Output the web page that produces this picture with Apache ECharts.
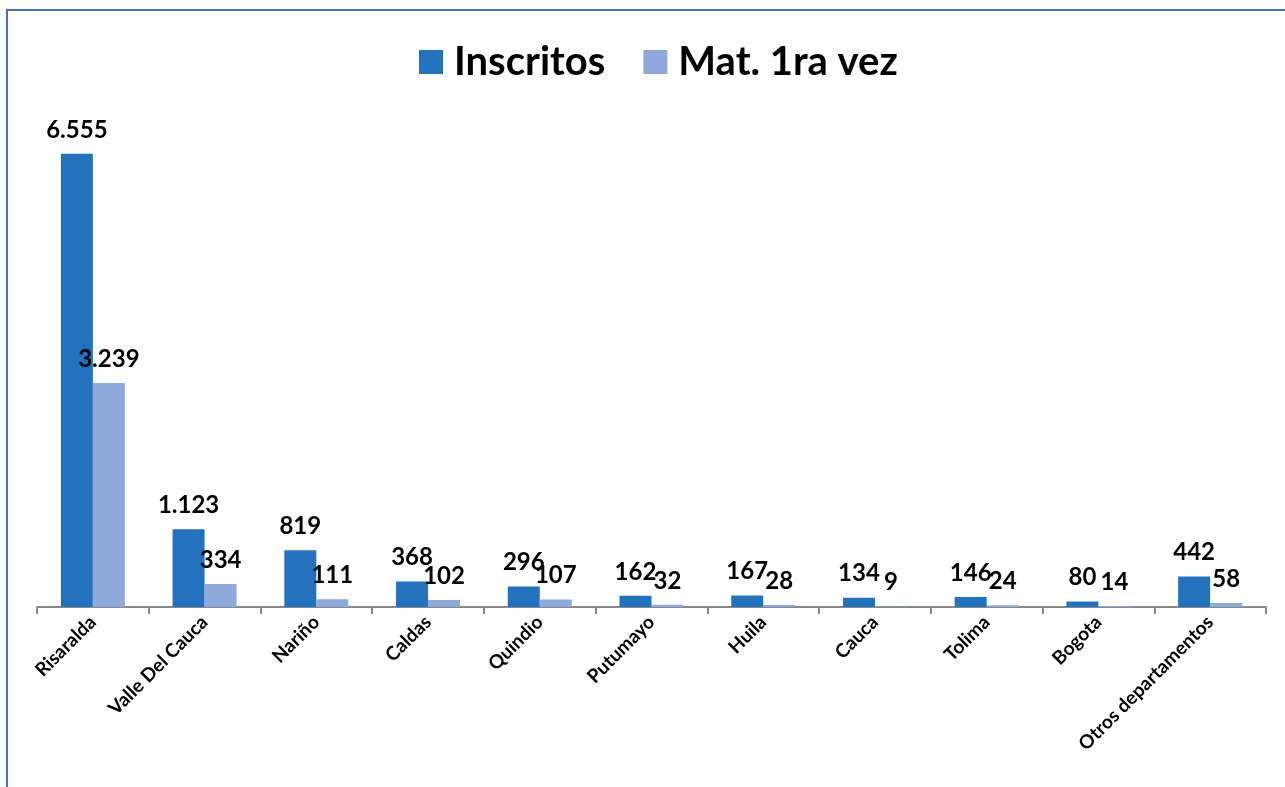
<!DOCTYPE html>
<html>
<head>
<meta charset="utf-8">
<script src="https://cdn.jsdelivr.net/npm/echarts@6/dist/echarts.min.js"></script>
<style>
  html, body { margin: 0; padding: 0; background: #fff; }
  #main { width: 1285px; height: 787px; }
</style>
</head>
<body>
<div id="main"></div>
<script>
var categories = ['Risaralda', 'Valle Del Cauca', 'Nariño', 'Caldas', 'Quindio', 'Putumayo',
                  'Huila', 'Cauca', 'Tolima', 'Bogota', 'Otros departamentos'];
var inscritos = [6555, 1123, 819, 368, 296, 162, 167, 134, 146, 80, 442];
var matPrimera = [3239, 334, 111, 102, 107, 32, 28, 9, 24, 14, 58];

var myChart = echarts.init(document.getElementById('main'));

// miles con punto, como en el original
function fmt(p) {
    return String(p.value).replace(/\B(?=(\d{3})+(?!\d))/g, '.');
}

var labelStyle = {
    show: true,
    position: 'top',
    distance: 12,
    formatter: fmt,
    color: '#000',
    fontFamily: 'Lato',
    fontWeight: 'bold',
    fontSize: 24
};

option = {
    backgroundColor: '#fff',
    animation: false,
    graphic: [{
        type: 'rect',
        shape: { x: 7, y: 10, width: 1400, height: 900 },
        style: { fill: 'none', stroke: '#4472C4', lineWidth: 2 }
    }],
    legend: {
        top: 37,
        left: 414,
        itemWidth: 24,
        itemHeight: 24,
        itemGap: 38,
        icon: 'rect',
        textStyle: {
            fontFamily: 'Lato',
            fontWeight: 'bold',
            fontSize: 40,
            color: '#000',
            padding: [0, 0, 0, 6]
        },
        data: ['Inscritos', 'Mat. 1ra vez']
    },
    grid: {
        left: 37,
        right: 19,
        top: 123,
        bottom: 180
    },
    xAxis: {
        type: 'category',
        data: categories,
        axisLine: { lineStyle: { color: '#898989', width: 2 } },
        axisTick: { show: true, length: 7, lineStyle: { color: '#898989', width: 2 } },
        axisLabel: {
            rotate: 45,
            interval: 0,
            margin: 12,
            color: '#000',
            fontFamily: 'Lato',
            fontWeight: 'bold',
            fontSize: 19
        }
    },
    yAxis: {
        type: 'value',
        min: 0,
        max: 7000,
        show: false
    },
    series: [
        {
            name: 'Inscritos',
            type: 'bar',
            barWidth: 32,
            barGap: '0%',
            itemStyle: { color: '#2372BE' },
            label: labelStyle,
            data: inscritos
        },
        {
            name: 'Mat. 1ra vez',
            type: 'bar',
            barWidth: 32,
            barGap: '0%',
            itemStyle: { color: '#8EAADC' },
            label: labelStyle,
            data: matPrimera
        }
    ]
};

myChart.setOption(option);
</script>
</body>
</html>
